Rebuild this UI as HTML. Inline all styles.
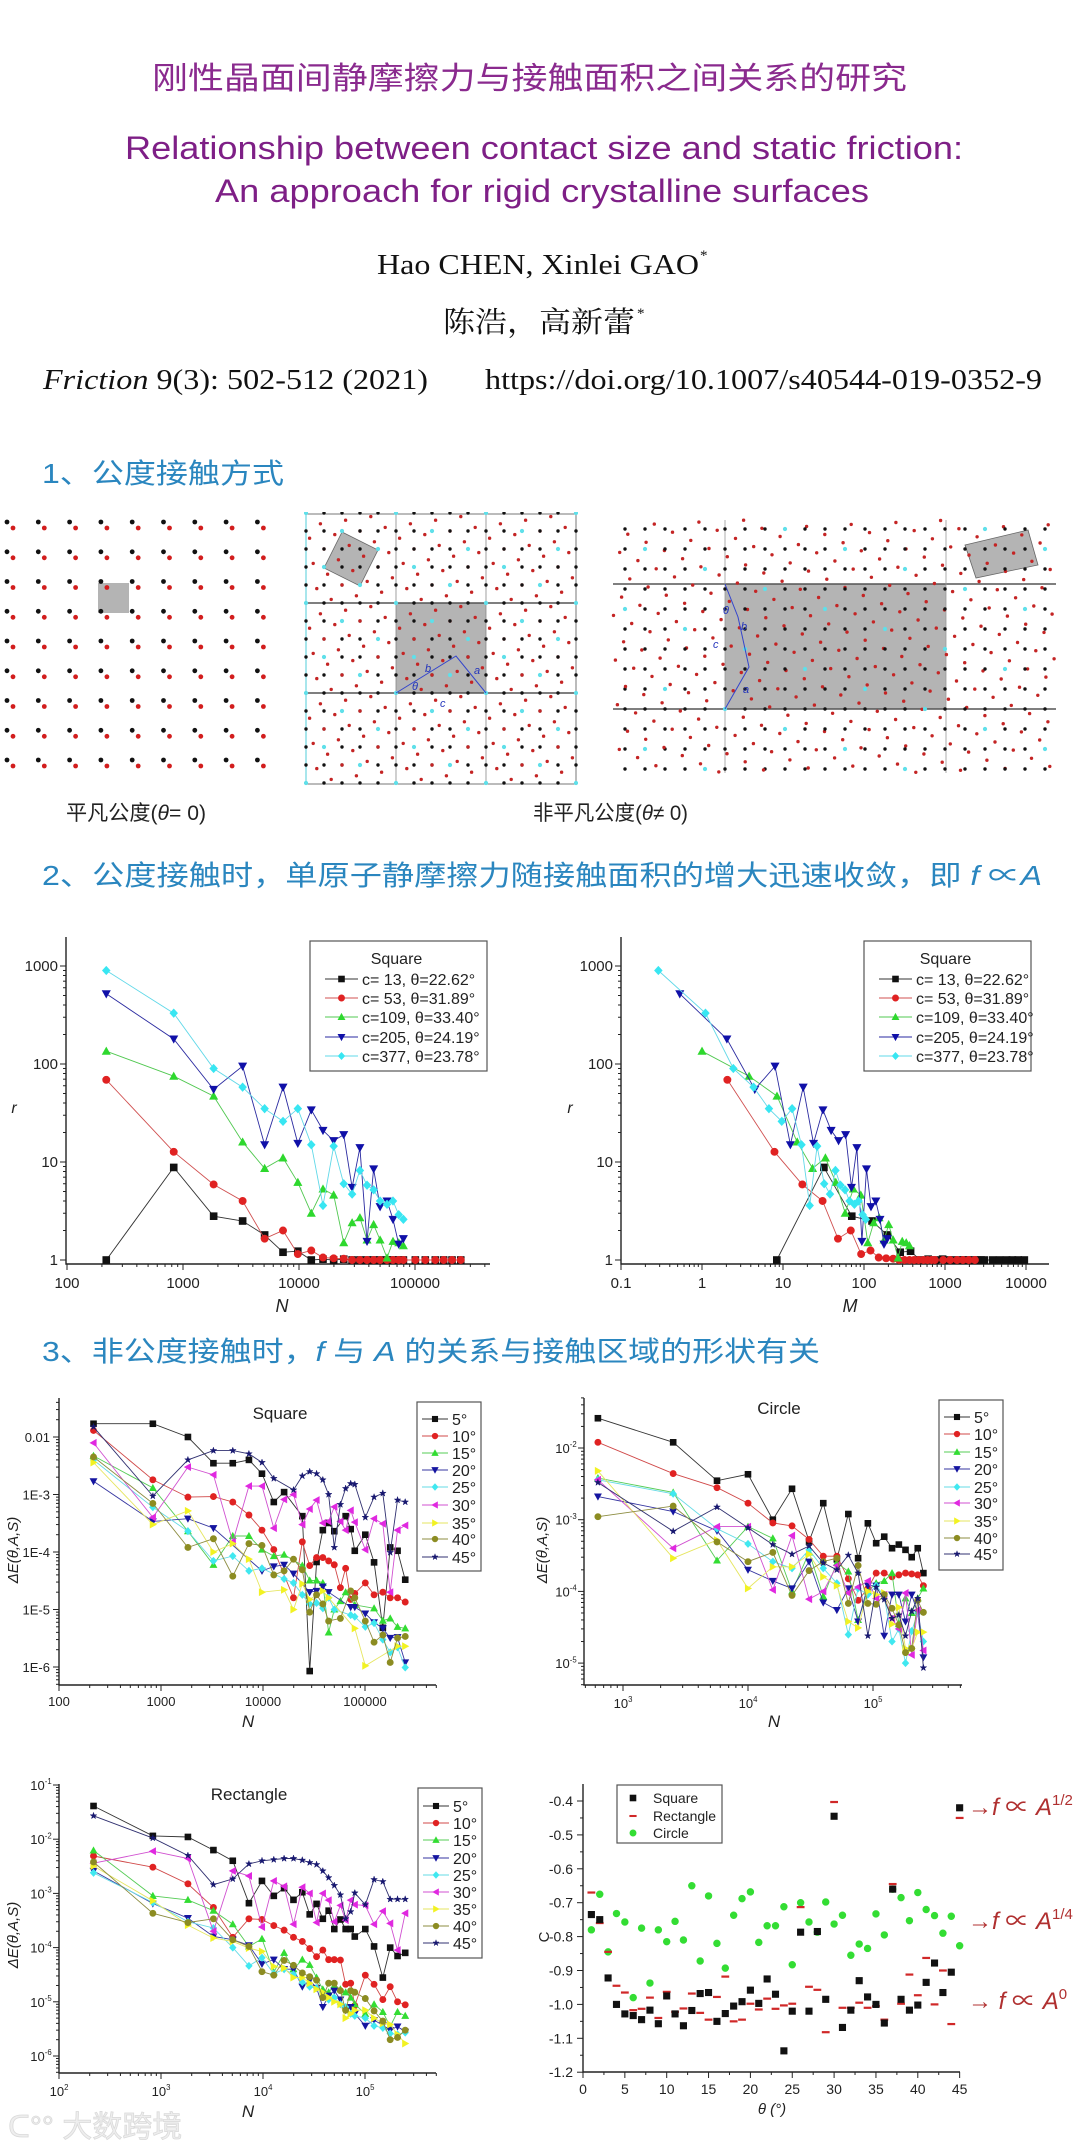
<!DOCTYPE html>
<html><head><meta charset="utf-8">
<style>
html,body{margin:0;padding:0;background:#fff;}
body{width:1080px;height:2154px;overflow:hidden;position:relative;}
svg{position:absolute;left:0;top:0;}
text{font-family:"Liberation Sans","Noto Sans CJK SC",sans-serif;}
.serif{font-family:"Liberation Serif","Noto Serif CJK SC",serif;}
</style></head>
<body>
<svg id="page" width="1080" height="2154" viewBox="0 0 1080 2154" xmlns="http://www.w3.org/2000/svg">
<text x="152" y="89" font-size="31" fill="#8a2a8e" textLength="755" lengthAdjust="spacingAndGlyphs">刚性晶面间静摩擦力与接触面积之间关系的研究</text>
<text x="125" y="159" font-size="32" fill="#7e1f86" textLength="838" lengthAdjust="spacingAndGlyphs">Relationship between contact size and static friction:</text>
<text x="215" y="202" font-size="32" fill="#7e1f86" textLength="654" lengthAdjust="spacingAndGlyphs">An approach for rigid crystalline surfaces</text>
<text class="serif" x="377" y="274" font-size="29" fill="#111" textLength="322" lengthAdjust="spacingAndGlyphs">Hao CHEN, Xinlei GAO</text>
<text class="serif" x="700" y="260" font-size="15" fill="#111">*</text>
<text class="serif" x="443" y="332" font-size="29" fill="#111" textLength="192" lengthAdjust="spacingAndGlyphs">陈浩，高新蕾</text>
<text class="serif" x="637" y="318" font-size="15" fill="#111">*</text>
<text class="serif" x="43" y="389" font-size="29" fill="#111" textLength="385" lengthAdjust="spacingAndGlyphs"><tspan font-style="italic">Friction</tspan> 9(3): 502-512 (2021)</text>
<text class="serif" x="485" y="389" font-size="29" fill="#111" textLength="557" lengthAdjust="spacingAndGlyphs">https://doi.org/10.1007/s40544-019-0352-9</text>
<text x="42" y="483" font-size="28" fill="#2a86bf" textLength="242" lengthAdjust="spacingAndGlyphs">1、公度接触方式</text>
<text x="66" y="820" font-size="21" fill="#222" textLength="140" lengthAdjust="spacingAndGlyphs">平凡公度(<tspan font-style="italic">θ</tspan>= 0)</text>
<text x="533" y="820" font-size="21" fill="#222" textLength="155" lengthAdjust="spacingAndGlyphs">非平凡公度(<tspan font-style="italic">θ</tspan>≠ 0)</text>
<text x="42" y="885" font-size="28" fill="#2a86bf" textLength="1000" lengthAdjust="spacingAndGlyphs">2、公度接触时，单原子静摩擦力随接触面积的增大迅速收敛，即 <tspan font-style="italic">f</tspan> ∝<tspan font-style="italic">A</tspan></text>
<text x="42" y="1361" font-size="28" fill="#2a86bf" textLength="778" lengthAdjust="spacingAndGlyphs">3、非公度接触时，<tspan font-style="italic">f</tspan> 与 <tspan font-style="italic">A</tspan> 的关系与接触区域的形状有关</text>
<g id="lattices"></g>
<g id="charts"></g>
<text x="8" y="2137" font-size="30" fill="#eeeeee" stroke="#dadada" stroke-width="0.8">ᑕ°° 大数跨境</text>
</svg>
<script>
// ---------- Chart 1 data (section 2) ----------
const nVals = [218,832,1837,3266,5055,7280,9770,12760,16100,19900,24300,28700,33500,38600,44000,50000,57400,64600,72400,79400,100700,122700,149600,176600,208500,248000];
const cValues = [13,53,109,205,377];
const seriesLabels1 = ["c= 13, θ=22.62°","c= 53, θ=31.89°","c=109, θ=33.40°","c=205, θ=24.19°","c=377, θ=23.78°"];
const rC13 = [1.0,8.8,2.8,2.5,1.8,1.2,1.23,1.0,1.02,1.0,1.02,1,1,1,1,1,1,1,1,1,1,1,1,1,1,1];
const rC53 = [69,12.7,5.9,4.0,1.65,2.0,1.15,1.25,1.06,1.04,1.03,1,1,1,1,1,1,1,1,1,1,1,1,1,1,1];
const rC109 = [135,75,47,16,8.6,11,6.2,3.0,5.3,4.6,1.5,2.4,2.7,1.6,2.3,1.6,1.05,1.55,1.5,1.4];
const rC205 = [520,180,55,95,15,58,15.5,34,21,16.5,19,5.5,14,1.55,8.5,3.5,4.0,2.6,1.45,1.65];
const rC377 = [900,330,90,58,35,26,35,15,3.6,14.5,6,4.7,8.2,5.8,5.2,4.0,3.7,4.0,2.9,2.6];
const xTicksN = [100,1000,10000,100000];
const xTicksM = [0.1,1,10,100,1000,10000];
const yTicksR = [1,10,100,1000];

// ---------- Section 3 data ----------
const angleLabels = ["5°","10°","15°","20°","25°","30°","35°","40°","45°"];
const sq5 = [1.7e-2,1.7e-2,1e-2,3.5e-3,3.5e-3,4e-3,2.3e-3,7.4e-4,1.1e-3,null,4.2e-4,8.5e-7,6.7e-5,2.4e-4,3.2e-4,2.3e-4,null,4.2e-4,2.5e-4,1.05e-4,2e-4,6.6e-5,4.8e-6,1.2e-4,1.05e-4,3.3e-5];
const sq10 = [1.3e-2,1.8e-3,9e-4,9.2e-4,7.4e-4,4.4e-4,2.4e-4,1.1e-4,null,1.6e-5,1.5e-4,5.8e-5,8e-5,8e-5,7e-5,6e-5,2.4e-5,5.2e-5,1.5e-5,1.9e-5,2.9e-5,1.8e-5,2e-5,1.6e-5,1.6e-5,1.35e-5];
const sq15 = [4.7e-3,1.3e-3,2.3e-4,6e-5,1.9e-4,1.9e-4,1.1e-4,8.5e-5,9e-5,null,5.8e-5,3.2e-5,3.2e-5,2.9e-5,4e-6,1e-5,1.4e-5,2e-5,null,1.2e-5,null,1.05e-5,6.4e-6,7e-6,5e-6,4.7e-6];
const sq20 = [1.7e-3,3.4e-4,3.8e-4,2.6e-4,null,null,4.7e-5,5.6e-5,6e-5,4.2e-5,null,2e-5,2.1e-5,2.5e-5,2e-5,null,null,null,1.1e-5,1.1e-5,8.5e-6,6e-6,4.7e-6,3.2e-6,3.3e-6,1.2e-6];
const sq25 = [4e-3,6e-4,2.3e-4,7e-5,8.5e-5,4.7e-5,5.2e-5,null,3.4e-5,2.9e-5,1.8e-5,1.25e-5,1.3e-5,1.05e-5,1.6e-5,1e-5,null,null,8e-6,7.5e-6,5e-6,5.8e-6,3e-6,1.8e-6,2.2e-6,9.8e-7];
const sq30 = [7.9e-3,4e-4,3e-3,2.2e-3,1.5e-4,1.4e-3,1.4e-3,2.6e-4,8.2e-4,1e-3,3e-4,5.6e-4,8e-4,3.2e-4,3.4e-4,6.1e-4,3.4e-4,2.4e-4,5.3e-4,3.3e-4,1.1e-4,3.8e-4,3.1e-4,2e-5,2.4e-4,2.9e-4];
const sq35 = [3.6e-3,3e-4,5.2e-4,1e-4,1.4e-4,7.5e-5,2e-5,null,2.2e-5,1e-5,2.8e-5,1.5e-5,null,2.1e-5,1.6e-5,null,null,null,null,4.7e-6,1.05e-6,null,null,null,2.3e-6,2.3e-6];
const sq40 = [4.5e-3,7e-4,1.2e-4,1.7e-4,3.8e-5,1.4e-4,1.3e-4,4e-5,4.7e-5,7.5e-5,4.9e-5,9e-6,1.8e-5,1.25e-5,6.3e-6,null,7e-6,null,2.1e-5,1.6e-5,6.3e-6,2.7e-6,3.6e-6,1.2e-6,3.2e-6,3.4e-6];
const sq45 = [1.5e-2,9.4e-4,4e-3,5.8e-3,5.8e-3,5.1e-3,3.6e-3,1.9e-3,null,1.2e-3,2.1e-3,2.5e-3,2.3e-3,1.8e-3,1e-3,1.2e-4,6.7e-4,1.27e-3,1.55e-3,1.5e-3,4e-4,9e-4,1.05e-3,9.8e-5,8e-4,7.4e-4];

const nCircle = [630,2520,5650,10000,15800,22500,30800,40000,51400,63500,76000,91000,106000,123000,142000,161000,182000,204000,228000,253000];
const ci5 = [2.6e-2,1.2e-2,3.5e-3,4.3e-3,1.0e-3,2.7e-3,5e-4,1.7e-3,2.8e-4,1.2e-3,2.9e-4,8.9e-4,4.7e-4,5.8e-4,4e-4,4.5e-4,3.8e-4,3e-4,4e-4,1.8e-4];
const ci10 = [1.2e-2,4.4e-3,2.8e-3,1.7e-3,9e-4,8.2e-4,5.3e-4,3.1e-4,3.1e-4,1.5e-4,7.5e-5,1.1e-4,1.8e-4,1.8e-4,1.6e-4,1.7e-4,1.8e-4,1.75e-4,1.7e-4,1.2e-4];
const ci15 = [3.8e-3,2.4e-3,2.7e-4,8e-4,5.5e-4,1e-4,3.5e-4,8.5e-5,2.5e-4,1.9e-4,4e-5,1e-4,1.3e-4,1.4e-4,1.8e-4,3.5e-5,8e-5,5e-5,8e-5,1.1e-4];
const ci20 = [2.1e-3,1.3e-3,7e-4,2e-4,1.4e-4,1.1e-4,2.6e-4,7e-5,5.5e-5,1.1e-4,3.8e-5,1.2e-4,1.2e-4,2.4e-5,9e-5,9e-5,3.8e-5,9e-5,5e-5,1.2e-5];
const ci25 = [3.6e-3,2.3e-3,7.5e-4,4.6e-4,2.6e-4,2.1e-4,3.8e-4,2.1e-4,1.3e-4,2.5e-5,1.1e-4,9e-5,1.2e-4,8.6e-5,2e-5,3e-5,1e-5,2.8e-5,5e-5,2e-5];
const ci30 = [3.6e-3,4e-4,8e-4,8e-4,1.05e-4,6e-4,7.8e-5,1e-4,2.3e-4,9.5e-5,1.15e-4,1.4e-4,8e-5,9e-5,4.2e-5,3e-5,9.5e-5,1.3e-5,5.5e-5,1.5e-5];
const ci35 = [4.8e-3,2.9e-4,5.2e-4,1.1e-4,2.2e-4,2.2e-4,3.3e-4,1.6e-4,1.2e-4,3.8e-5,3.1e-5,1e-4,9e-5,9.5e-5,3.5e-5,6e-5,1.6e-5,1.6e-5,2.7e-5,2.7e-5];
const ci40 = [1.1e-3,1.55e-3,4.9e-4,2.6e-4,3.5e-4,8.8e-5,1.95e-4,2.6e-4,2.9e-4,6.8e-5,2.3e-4,6.8e-5,6.6e-5,9e-5,5.8e-5,3.4e-5,1.4e-5,1.6e-5,7.5e-5,5.1e-5];
const ci45 = [3.3e-3,6.9e-4,1.5e-3,7.7e-4,4.5e-4,3.3e-4,4.3e-4,2.5e-4,2e-4,3.2e-4,1.8e-4,2.4e-5,1.15e-4,7.7e-5,4.2e-5,4.7e-5,2.4e-5,5.3e-5,8e-5,8.6e-6];

const re5 = [4.1e-2,1.15e-2,1.1e-2,6.3e-3,4e-3,6.6e-4,1.7e-3,9e-4,1.25e-3,7.6e-4,1.05e-3,4.1e-4,6.4e-4,3.4e-4,4.8e-4,2.2e-4,3.3e-4,2.2e-4,2.2e-4,1.6e-4,2.2e-4,1.05e-4,2.8e-5,1e-4,7e-5,8e-5];
const re10 = [4.9e-3,3.05e-3,1.5e-3,5.5e-4,1.55e-4,3.4e-4,3.3e-4,2.55e-4,2.1e-4,1.55e-4,1.3e-4,9.6e-5,6.8e-5,9e-5,6e-5,6e-5,5.9e-5,2.1e-5,2.2e-5,8.5e-6,3.1e-5,2.1e-5,1.1e-5,1.9e-5,1e-5,8.8e-6];
const re15 = [6.2e-3,9e-4,7.6e-4,4.8e-4,2.7e-4,1.05e-4,1.45e-4,3.5e-5,8e-5,4e-5,6e-5,4.8e-5,2.8e-5,1.7e-5,1.5e-5,2e-5,1.7e-5,1.5e-5,1.2e-5,9e-6,6e-6,9e-6,6.5e-6,3.5e-6,6.5e-6,5.5e-6];
const re20 = [2.6e-3,6.5e-4,3.5e-4,1.6e-4,1.4e-4,1.1e-4,5e-5,6e-5,4e-5,4e-5,1.9e-5,2.5e-5,1.8e-5,8e-6,1.3e-5,1.6e-5,1.1e-5,7e-6,8e-6,6e-6,3.6e-6,4.6e-6,3.7e-6,3e-6,3.5e-6,2.8e-6];
const re25 = [2.4e-3,6.8e-4,3e-4,2.3e-4,1e-4,4.6e-5,6.5e-5,3.3e-5,4e-5,3.2e-5,2.3e-5,1.9e-5,1.8e-5,1.4e-5,1.1e-5,1.2e-5,9e-6,8e-6,6e-6,5.5e-6,5e-6,3.6e-6,3.3e-6,2.6e-6,2.5e-6,2.7e-6];
const re30 = [3.6e-3,6e-3,4.4e-3,2e-4,2.6e-3,2.1e-3,2.4e-4,1.7e-3,1.35e-3,2.7e-4,1.3e-3,1e-3,2.9e-4,1e-3,7.5e-4,3e-4,6e-4,3.2e-4,7.5e-4,6.2e-4,6e-4,2.7e-4,4.7e-4,2.8e-4,9e-5,4.3e-4];
const re35 = [3.2e-3,7.3e-4,2.6e-4,1.5e-4,1.3e-4,9.8e-5,8.5e-5,4.5e-5,4.2e-5,2.8e-5,2.8e-5,2.2e-5,1.7e-5,1.5e-5,1.2e-5,1e-5,9e-6,5e-6,6e-6,7e-6,7e-6,5e-6,4e-6,3.8e-6,2.5e-6,1.7e-6];
const re40 = [3.8e-3,4.3e-4,2.9e-4,3.4e-4,1.4e-4,1.05e-4,3.6e-5,3.1e-5,5.8e-5,4.7e-5,3.4e-5,2.9e-5,2.5e-5,1.2e-5,2.2e-5,2.2e-5,1.6e-5,7e-6,1.6e-5,1.5e-5,1.15e-5,6.8e-6,4.4e-6,2e-6,2.2e-6,3e-6];
const re45 = [2.7e-2,1.05e-2,5e-3,1.45e-3,1.85e-3,3.5e-3,4e-3,4.2e-3,4.4e-3,4.4e-3,4.1e-3,3.7e-3,3.4e-3,2.6e-3,1.95e-3,1.4e-3,9.4e-4,3.4e-4,4.6e-4,1.02e-3,6.2e-4,1.8e-3,1.65e-3,7.8e-4,7.8e-4,7.8e-4];

const thetaDeg = [1,2,3,4,5,6,7,8,9,10,11,12,13,14,15,16,17,18,19,20,21,22,23,24,25,26,27,28,29,30,31,32,33,34,35,36,37,38,39,40,41,42,43,44,45];
const cSquare = [-0.735,-0.75,-0.922,-1.0,-1.028,-1.033,-1.045,-1.017,-1.057,-0.975,-1.028,-1.063,-1.018,-0.968,-0.965,-1.05,-1.027,-1.005,-0.992,-0.958,-0.997,-0.925,-0.97,-1.137,-1.02,-0.787,-1.02,-0.785,-0.985,-0.445,-1.068,-1.017,-0.93,-0.978,-1.0,-1.055,-0.66,-0.985,-1.017,-1.002,-0.935,-0.878,-0.965,-0.905,-0.42];
const cRect = [-0.67,-0.76,-0.845,-0.945,-0.965,-1.017,-1.013,-0.98,-1.04,-0.963,-1.022,-1.012,-0.968,-1.025,-1.045,-0.978,-0.918,-1.05,-1.045,-0.998,-1.015,-0.983,-1.013,-1.003,-0.998,-0.713,-0.948,-0.957,-1.082,-0.403,-1.01,-1.01,-0.995,-1.01,-1.005,-1.045,-0.645,-0.998,-0.912,-0.973,-0.863,-1.0,-0.9,-1.058,-0.45];
const cCircle = [-0.78,-0.675,-0.845,-0.732,-0.757,-0.98,-0.775,-0.937,-0.78,-0.815,-0.755,-0.81,-0.65,-0.872,-0.68,-0.82,-0.893,-0.737,-0.688,-0.668,-0.817,-0.768,-0.768,-0.712,-0.883,-0.7,-0.757,-0.787,-0.698,-0.763,-0.737,-0.855,-0.822,-0.835,-0.733,-0.795,-0.66,-0.685,-0.753,-0.67,-0.72,-0.738,-0.79,-0.74,-0.827];
const cTicks = [-0.4,-0.5,-0.6,-0.7,-0.8,-0.9,-1.0,-1.1,-1.2];
const thetaTicks = [0,5,10,15,20,25,30,35,40,45];

const NS = "http://www.w3.org/2000/svg";
function mk(tag, attrs, parent){
  const e = document.createElementNS(NS, tag);
  for (const k in attrs) e.setAttribute(k, attrs[k]);
  parent.appendChild(e);
  return e;
}
const root = document.getElementById('charts');
const latt = document.getElementById('lattices');
const log10 = Math.log10;

function marker(g, shape, x, y, s, fill, stroke){
  let el;
  const h = s/2;
  if (shape==='sq') el = mk('rect',{x:x-h,y:y-h,width:s,height:s,fill:fill,stroke:stroke,'stroke-width':0.6},g);
  else if (shape==='ci') el = mk('circle',{cx:x,cy:y,r:h*1.05,fill:fill,stroke:stroke,'stroke-width':0.6},g);
  else if (shape==='di') el = mk('polygon',{points:`${x},${y-h*1.2} ${x+h*1.1},${y} ${x},${y+h*1.2} ${x-h*1.1},${y}`,fill:fill,stroke:stroke,'stroke-width':0.6},g);
  else if (shape==='bar') el = mk('rect',{x:x-s*0.6,y:y-s*0.17,width:s*1.2,height:s*0.34,fill:fill},g);
  else if (shape==='st'){
    let p=[];for(let i=0;i<10;i++){const r=i%2?h*0.45:h*1.15;const a=-Math.PI/2+i*Math.PI/5;p.push((x+r*Math.cos(a)).toFixed(1)+','+(y+r*Math.sin(a)).toFixed(1));}
    el = mk('polygon',{points:p.join(' '),fill:fill,stroke:stroke,'stroke-width':0.5},g);
  } else {
    const k=h*1.15; let pts;
    if (shape==='tu') pts=`${x},${y-k} ${x+k},${y+k*0.8} ${x-k},${y+k*0.8}`;
    else if (shape==='td') pts=`${x},${y+k} ${x+k},${y-k*0.8} ${x-k},${y-k*0.8}`;
    else if (shape==='tl') pts=`${x-k},${y} ${x+k*0.8},${y-k} ${x+k*0.8},${y+k}`;
    else pts=`${x+k},${y} ${x-k*0.8},${y-k} ${x-k*0.8},${y+k}`;
    el = mk('polygon',{points:pts,fill:fill,stroke:stroke,'stroke-width':0.6},g);
  }
  
  
  return el;
}

function txt(g, x, y, s, size, anchor, extra){
  const t = mk('text',{x:x,y:y,'font-size':size,'text-anchor':anchor||'start',fill:'#222'},g);
  if (extra) for (const k in extra) t.setAttribute(k, extra[k]);
  t.textContent = s;
  return t;
}
function supLabel(g, x, y, exp, size){
  const t = mk('text',{x:x,y:y,'font-size':size,'text-anchor':'middle',fill:'#222'},g);
  const a = mk('tspan',{},t); a.textContent='10';
  const b = mk('tspan',{dy:-size*0.45,'font-size':size*0.6},t); b.textContent=String(exp);
  
  
  return t;
}
function logAxes(g, P, xMinDec, xMaxDec, yMinDec, yMaxDec){
  const ax = mk('path',{d:`M${P.x0},${P.top} V${P.axisY} H${P.right}`,fill:'none',stroke:'#222','stroke-width':1.4},g);
  
  
  for (let d=xMinDec; d<=xMaxDec; d++){
    for (let m=1;m<10;m++){
      const v = Math.pow(10,d)*m; const x = P.sx(v);
      if (x < P.x0-0.5 || x > P.right+0.5) continue;
      mk('line',{x1:x,x2:x,y1:P.axisY,y2:P.axisY+(m===1?6:3),stroke:'#222','stroke-width':1},g);
    }
  }
  for (let d=yMinDec; d<=yMaxDec; d++){
    for (let m=1;m<10;m++){
      const v = Math.pow(10,d)*m; const y = P.sy(v);
      if (y < P.top-0.5 || y > P.axisY+0.5) continue;
      mk('line',{x1:P.x0,x2:P.x0-(m===1?6:3),y1:y,y2:y,stroke:'#222','stroke-width':1},g);
    }
  }
}
function series(g, xs, ys, sx, sy, shape, color, lineColor, msize, name){
  const sg = mk('g',{},g);
  
  
  let d = '';
  let pts = [];
  for (let i=0;i<ys.length;i++){
    if (ys[i]===null || ys[i]===undefined || xs[i]===undefined) continue;
    pts.push([sx(xs[i]), sy(ys[i])]);
  }
  pts.forEach((p,i)=>{ d += (i?'L':'M')+p[0].toFixed(1)+','+p[1].toFixed(1); });
  if (lineColor) mk('path',{d:d,fill:'none',stroke:lineColor,'stroke-width':0.9},sg);
  pts.forEach(p=>marker(sg, shape, p[0], p[1], msize, color, color));
}

const shapes1 = ['sq','ci','tu','td','di'];
const colors1 = ['#111111','#e02222','#2ed82e','#1010a8','#38e6f2'];
const lines1 = ['#333333','#d05050','#50c850','#2a2aa0','#60d8e8'];
const rSeries = [rC13,rC53,rC109,rC205,rC377];

function chartR(which){
  const g = mk('g',{},root);
  
  
  const P = which==='N'
    ? {x0:66, top:937, axisY:1264, right:490, sx:v=>67+116*(log10(v)-2)}
    : {x0:621, top:937, axisY:1264, right:1049, sx:v=>621+81*(log10(v)+1)};
  P.sy = v => 1260 - 98*log10(v);
  if (which==='N') logAxes(g,P,2,5,0,3); else logAxes(g,P,-1,4,0,3);
  const ticks = which==='N' ? xTicksN : xTicksM;
  ticks.forEach(v=>{
    const t = txt(g, P.sx(v), 1288, String(v), 15, 'middle');
    
    
  });
  yTicksR.forEach(v=>{
    const t = txt(g, P.x0-8, P.sy(v)+5, String(v), 15, 'end');
    
    
  });
  const yl = txt(g, which==='N'?14:570, 1113, 'r', 16, 'middle', {'font-style':'italic'});
  
  
  const xl = txt(g, which==='N'?282:850, 1312, which, 18, 'middle', {'font-style':'italic'});
  
  
  rSeries.forEach((ys,k)=>{
    const xs = which==='N' ? nVals : nVals.map(n=>n/(2*cValues[k]));
    series(g, xs, ys, P.sx, P.sy, shapes1[k], colors1[k], lines1[k], 7, 'series-c'+cValues[k]);
  });
  const lx = which==='N' ? 310 : 864, lw = which==='N' ? 177 : 167;
  const lg = mk('g',{},g);
  
  
  mk('rect',{x:lx,y:941,width:lw,height:130,fill:'#fff',stroke:'#555','stroke-width':1.2},lg);
  const lt = txt(lg, lx+lw/2-2, 964, 'Square', 16, 'middle');
  
  
  const ey = [979,998,1017,1037,1056];
  seriesLabels1.forEach((s,k)=>{
    const x1 = lx+15, x2 = lx+48;
    mk('line',{x1:x1,x2:x2,y1:ey[k],y2:ey[k],stroke:lines1[k],'stroke-width':1},lg);
    marker(lg, shapes1[k], (x1+x2)/2, ey[k], 6, colors1[k], colors1[k]);
    const t = txt(lg, x2+4, ey[k]+6, s, 16, 'start');
    
    
  });
}
chartR('N');
chartR('M');

const shapes9 = ['sq','ci','tu','td','di','tl','tr','ci','st'];
const colors9 = ['#111111','#e02222','#33dd33','#1515a0','#40e8f0','#e028e0','#f2f222','#8c8c22','#181870'];
const lines9 = ['#333333','#d04848','#55cc55','#3535a0','#66dbe6','#d050d0','#e6e660','#8c8c40','#303070'];
const sqData = [sq5,sq10,sq15,sq20,sq25,sq30,sq35,sq40,sq45];
const ciData = [ci5,ci10,ci15,ci20,ci25,ci30,ci35,ci40,ci45];
const reData = [re5,re10,re15,re20,re25,re30,re35,re40,re45];
const sqYTickVals = [1e-2,1e-3,1e-4,1e-5,1e-6];
const sqYTickText = ["0.01","1E-3","1E-4","1E-5","1E-6"];
const ciYTickExp = [-2,-3,-4,-5];
const reYTickExp = [-1,-2,-3,-4,-5,-6];

function deChart(cfg){
  const g = mk('g',{},root);
  
  
  const P = cfg.P;
  logAxes(g,P,cfg.xd[0],cfg.xd[1],cfg.yd[0],cfg.yd[1]);
  cfg.xTicks(g,P);
  cfg.yTicks(g,P);
  const tt = txt(g, cfg.titleX, cfg.titleY, cfg.title, 17, 'middle');
  
  
  const xl = txt(g, cfg.nX, cfg.nY, 'N', 17, 'middle', {'font-style':'italic'});
  
  
  const yl = txt(g, 0, 0, 'ΔE(θ,A,S)', 15, 'middle', {'font-style':'italic', transform:`translate(${cfg.ylX},${cfg.ylY}) rotate(-90)`});
  
  
  cfg.data.forEach((ys,k)=>{
    series(g, cfg.xs, ys, P.sx, P.sy, shapes9[k], colors9[k], lines9[k], 6, 'series-'+angleLabels[k].replace('°','deg'));
  });
  const lg = mk('g',{},g);
  
  
  mk('rect',{x:cfg.leg[0],y:cfg.leg[1],width:cfg.leg[2],height:cfg.leg[3],fill:'#fff',stroke:'#555','stroke-width':1.2},lg);
  angleLabels.forEach((s,k)=>{
    const y = cfg.legY[k], x1 = cfg.leg[0]+5, x2 = cfg.leg[0]+31;
    mk('line',{x1:x1,x2:x2,y1:y,y2:y,stroke:lines9[k],'stroke-width':1},lg);
    marker(lg, shapes9[k], (x1+x2)/2, y, 5.5, colors9[k], colors9[k]);
    const t = txt(lg, x2+4, y+6, s, 16, 'start');
    
    
  });
}

deChart({
  name:'chart-square', title:'Square', titleX:280, titleY:1419, nX:248, nY:1727, ylX:18, ylY:1550,
  P:{x0:59, top:1398, axisY:1685, right:436, sx:v=>59+102*(log10(v)-2), sy:v=>1437-57.5*(log10(v)+2)},
  xd:[2,5], yd:[-7,-2], xs:nVals, data:sqData,
  xTicks:(g,P)=>xTicksN.forEach(v=>{const t=txt(g,P.sx(v),1706,String(v),13,'middle');}),
  yTicks:(g,P)=>sqYTickVals.forEach((v,i)=>{const t=txt(g,P.x0-9,P.sy(v)+5,sqYTickText[i],13,'end');}),
  leg:[417,1402,64,169], legY:[1419,1436,1453,1470,1487,1505,1523,1539,1557]
});
deChart({
  name:'chart-circle', title:'Circle', titleX:779, titleY:1414, nX:774, nY:1727, ylX:547, ylY:1550,
  P:{x0:584, top:1398, axisY:1685, right:962, sx:v=>623+125*(log10(v)-3), sy:v=>1448-71.7*(log10(v)+2)},
  xd:[2,5], yd:[-6,-2], xs:nCircle, data:ciData,
  xTicks:(g,P)=>[3,4,5].forEach(e=>supLabel(g,P.sx(Math.pow(10,e)),1708,e,13)),
  yTicks:(g,P)=>ciYTickExp.forEach(e=>{supLabel(g,P.x0-18,P.sy(Math.pow(10,e))+5,e,13);}),
  leg:[939,1400,64,170], legY:[1417,1434,1452,1469,1487,1503,1521,1538,1554]
});
deChart({
  name:'chart-rectangle', title:'Rectangle', titleX:249, titleY:1800, nX:248, nY:2117, ylX:18, ylY:1935,
  P:{x0:59, top:1784, axisY:2073, right:436, sx:v=>59+102*(log10(v)-2), sy:v=>1785-54.2*(log10(v)+1)},
  xd:[2,5], yd:[-7,-1], xs:nVals, data:reData,
  xTicks:(g,P)=>[2,3,4,5].forEach(e=>supLabel(g,P.sx(Math.pow(10,e)),2096,e,13)),
  yTicks:(g,P)=>reYTickExp.forEach(e=>supLabel(g,P.x0-18,P.sy(Math.pow(10,e))+5,e,13)),
  leg:[418,1788,64,170], legY:[1806,1823,1840,1858,1875,1892,1909,1926,1943]
});

(function(){
  const g = mk('g',{},root);
  
  
  const sx = t=>583+8.37*t, sy = v=>1801+(-0.4-v)*339;
  const ax = mk('path',{d:`M583,1784 V2072 H960`,fill:'none',stroke:'#222','stroke-width':1.4},g);
  
  
  thetaTicks.forEach(t=>{
    mk('line',{x1:sx(t),x2:sx(t),y1:2072,y2:2078,stroke:'#222'},g);
    if (t<45) mk('line',{x1:sx(t+2.5),x2:sx(t+2.5),y1:2072,y2:2075,stroke:'#222'},g);
    const l = txt(g, sx(t), 2094, String(t), 14, 'middle');
    
    
  });
  cTicks.forEach(v=>{
    mk('line',{x1:583,x2:577,y1:sy(v),y2:sy(v),stroke:'#222'},g);
    if (v>-1.2) mk('line',{x1:583,x2:580,y1:sy(v-0.05),y2:sy(v-0.05),stroke:'#222'},g);
    const l = txt(g, 573, sy(v)+5, v.toFixed(1), 14, 'end');
    
    
  });
  const xl = txt(g, 772, 2114, 'θ (°)', 15, 'middle', {'font-style':'italic'});
  
  
  const yl = txt(g, 0, 0, 'C', 15, 'middle', {transform:'translate(549,1937) rotate(-90)'});
  
  
  const sets = [[cCircle,'ci','#33dd33','series-circle'],[cRect,'bar','#d02828','series-rectangle'],[cSquare,'sq','#111','series-square']];
  sets.forEach(([ys,sh,col,nm])=>series(g, thetaDeg, ys, sx, sy, sh, col, null, 6.5, nm));
  const lg = mk('g',{},g);
  
  
  mk('rect',{x:617,y:1785,width:105,height:58,fill:'#fff',stroke:'#555','stroke-width':1.2},lg);
  const le = [['Square','sq','#111',1798],['Rectangle','bar','#d02828',1816],['Circle','ci','#33dd33',1833]];
  le.forEach(([s,sh,col,y])=>{
    marker(lg, sh, 633, y, 6, col, col);
    const t = txt(lg, 653, y+5, s, 14, 'start');
    
    
  });
  const ann = [['A','1/2',1815],['A','1/4',1929],['A','0',2009]];
  ann.forEach(([a,e,y])=>{
    const t = mk('text',{x:968,y:y,'font-size':24,fill:'#b03030','font-family':'Liberation Serif, serif'},g);
    const t1 = mk('tspan',{},t); t1.textContent = e==='0' ? '→ ' : '→';
    const t2 = mk('tspan',{'font-style':'italic'},t); t2.textContent = 'f';
    const t3 = mk('tspan',{},t); t3.textContent = ' ∝ ';
    const t4 = mk('tspan',{'font-style':'italic'},t); t4.textContent = a;
    const t5 = mk('tspan',{dy:-10,'font-size':15},t); t5.textContent = e;
    
    
  });
})();

function dot(g,x,y,r,c){ mk('circle',{cx:x.toFixed(1),cy:y.toFixed(1),r:r,fill:c},g); }
(function(){
  const g = mk('g',{},latt);
  
  
  mk('rect',{x:98,y:583,width:31,height:30,fill:'#b4b4b4'},g);
  for (let i=0;i<9;i++) for (let j=0;j<9;j++){
    const bx = 7+j*31.3, by = 525+i*29.75;
    dot(g,bx,by-3,2.4,'#111');
    dot(g,bx+6,by+3,2.4,'#d21d1d');
  }
})();
function rotLattice(name, box, ox, oy, a, ang, cyanV, gray, lines, rhomb){
  const g = mk('g',{},latt);
  
  
  const cid = name+'-clip';
  const cp = mk('clipPath',{id:cid},g);
  mk('rect',{x:box[0]-2,y:box[1]-2,width:box[2]-box[0]+4,height:box[3]-box[1]+4},cp);
  const inner = mk('g',{'clip-path':`url(#${cid})`},g);
  mk('rect',{x:gray[0],y:gray[1],width:gray[2],height:gray[3],fill:'#b4b4b4'},inner);
  lines.forEach(l=>mk('line',{x1:l[0],y1:l[1],x2:l[2],y2:l[3],stroke:l[4],'stroke-width':l[5]},inner));
  mk('polygon',{points:rhomb,fill:'#b4b4b4',stroke:'#666','stroke-width':0.8},inner);
  const R = 40, c = Math.cos(ang), s = Math.sin(ang);
  for (let i=-R;i<=R;i++) for (let j=-R;j<=R;j++){
    const bx = ox+i*a, by = oy+j*a;
    if (bx>=box[0]-1 && bx<=box[2]+1 && by>=box[1]-1 && by<=box[3]+1) dot(inner,bx,by,1.7,'#111');
    const rx = ox+(i*c-j*s)*a, ry = oy+(i*s+j*c)*a;
    if (rx>=box[0] && rx<=box[2] && ry>=box[1] && ry<=box[3]) dot(inner,rx,ry,1.7,'#c42424');
  }
  for (let i=-R;i<=R;i++) for (let j=-R;j<=R;j++){
    const x = ox+(i*cyanV[0][0]+j*cyanV[1][0])*a, y = oy+(i*cyanV[0][1]+j*cyanV[1][1])*a;
    if (x>=box[0]-1 && x<=box[2]+1 && y>=box[1]-1 && y<=box[3]+1) dot(inner,x,y,2.1,'#5fe0ea');
  }
  return inner;
}
(function(){
  const m = rotLattice('lattice-noncommensurate-square',[306,514,576,784],396,603,18,Math.atan2(2,1)-Math.atan2(1,2),[[2,1],[-1,2]],
    [396,603,90,90],
    [[306,603,576,603,'#555',1.4],[306,693,576,693,'#555',1.4],[396,514,396,784,'#888',0.8],[486,514,486,784,'#888',0.8],
     [306,514,576,514,'#777',1],[306,784,576,784,'#777',1],[306,514,306,784,'#6fd6e0',1.2],[576,514,576,784,'#777',1]],
    '342,532 378,550 360,586 324,568');
  mk('path',{d:'M396,693 L456,656 L486,693',fill:'none',stroke:'#3344cc','stroke-width':1},m);
  [['b',425,672],['a',474,674],['θ',412,690],['c',440,707]].forEach(([s,x,y])=>{
    const t = mk('text',{x:x,y:y,'font-size':11,'font-style':'italic',fill:'#2233bb'},m); t.textContent=s;
  });
  const r = rotLattice('lattice-noncommensurate-rectangle',[613,520,1056,773],725,709,20,0.42,[[3,1],[-1,3]],
    [725,584,221,125],
    [[613,584,1056,584,'#555',1.4],[613,709,1056,709,'#555',1.4],[725,520,725,773,'#999',0.8],[946,520,946,773,'#999',0.8]],
    '965,545 1028,530 1038,565 976,578');
  mk('path',{d:'M725,709 L749,667 L738,617 L725,584',fill:'none',stroke:'#3344cc','stroke-width':1},r);
  [['θ',723,614],['b',741,630],['c',713,648],['a',743,693]].forEach(([s,x,y])=>{
    const t = mk('text',{x:x,y:y,'font-size':11,'font-style':'italic',fill:'#2233bb'},r); t.textContent=s;
  });
})();
</script>
</body></html>
